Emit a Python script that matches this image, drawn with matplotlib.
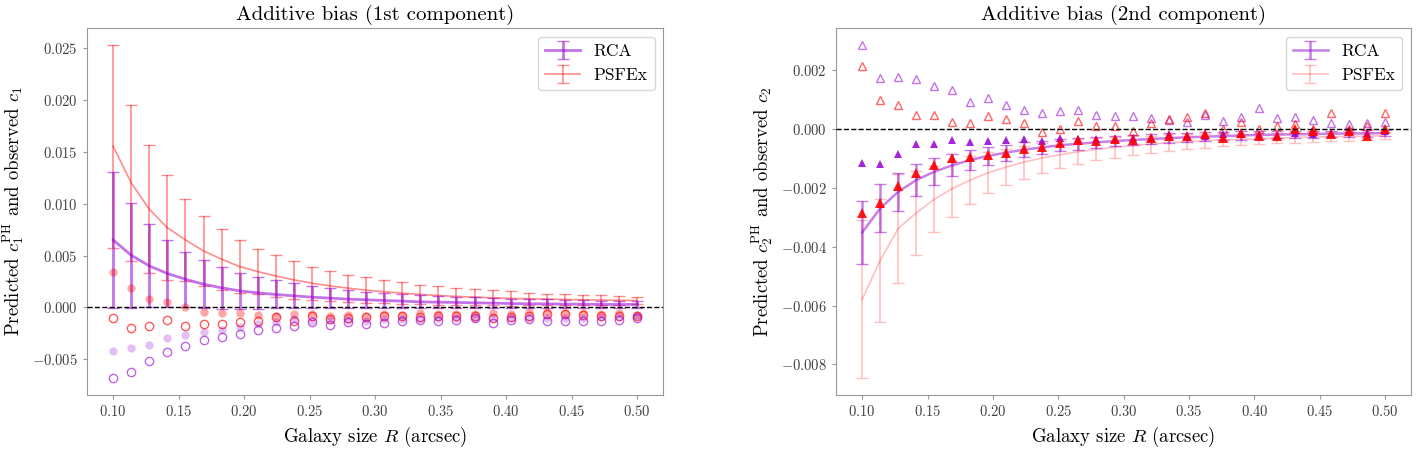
import numpy as np
import matplotlib
matplotlib.use('Agg')
import matplotlib.pyplot as plt

plt.rcParams['font.family'] = 'cmr10'
plt.rcParams['mathtext.fontset'] = 'cm'
plt.rcParams['axes.formatter.use_mathtext'] = True

# galaxy sizes (arcsec)
R = [0.1, 0.1138, 0.1276, 0.1414, 0.1552, 0.1690, 0.1828, 0.1966, 0.2103, 0.2241,
     0.2379, 0.2517, 0.2655, 0.2793, 0.2931, 0.3069, 0.3207, 0.3345, 0.3483, 0.3621,
     0.3759, 0.3897, 0.4034, 0.4172, 0.4310, 0.4448, 0.4586, 0.4724, 0.4862, 0.5]

# ---- 1st component ----
c1_rca_pred = [0.00651, 0.00503, 0.00401, 0.00327, 0.00272, 0.00224, 0.00189, 0.0016, 0.00141, 0.00125,
               0.00112, 0.00099, 0.0009, 0.0008, 0.00074, 0.00067, 0.00061, 0.00054, 0.00051, 0.00048,
               0.00045, 0.00042, 0.00038, 0.00035, 0.00035, 0.00032, 0.00032, 0.00029, 0.00029, 0.00029]
c1_rca_err = [0.00654, 0.00506, 0.00401, 0.00327, 0.00266, 0.00231, 0.00202, 0.00176, 0.00154, 0.00135,
              0.00119, 0.00106, 0.00096, 0.0009, 0.00077, 0.00071, 0.00067, 0.00064, 0.00058, 0.00054,
              0.00051, 0.00048, 0.00045, 0.00045, 0.00042, 0.00042, 0.00038, 0.00038, 0.00035, 0.00035]
c1_psf_pred = [0.01554, 0.01202, 0.00946, 0.00769, 0.00651, 0.00545, 0.00465, 0.00394, 0.00346, 0.00304,
               0.00266, 0.00234, 0.00208, 0.00186, 0.00167, 0.00151, 0.00138, 0.00125, 0.00115, 0.00106,
               0.00099, 0.00093, 0.00087, 0.00083, 0.0008, 0.00077, 0.00074, 0.00071, 0.00069, 0.00067]
c1_psf_err = [0.00978, 0.00753, 0.00615, 0.00503, 0.00397, 0.00337, 0.00295, 0.00256, 0.00221, 0.00199,
              0.00183, 0.0016, 0.00147, 0.00131, 0.00125, 0.00112, 0.00109, 0.00096, 0.00087, 0.00083,
              0.00077, 0.00071, 0.00071, 0.00061, 0.00054, 0.00051, 0.00048, 0.00045, 0.00042, 0.00038]
c1_psf_obs_f = [0.00337, 0.00186, 0.0008, 0.00054, 0.0, -0.00042, -0.00054, -0.00054, -0.00074, -0.0008,
                -0.00064, -0.00064, -0.0008, -0.00074, -0.0008, -0.00064, -0.00074, -0.00054, -0.00064, -0.00064,
                -0.00064, -0.00054, -0.00064, -0.00048, -0.00042, -0.00054, -0.00054, -0.00064, -0.00058, -0.00074]
c1_psf_obs_o = [-0.00103, -0.00196, -0.00176, -0.00122, -0.00183, -0.0016, -0.0016, -0.00144, -0.00128, -0.00096,
                -0.00128, -0.0008, -0.00112, -0.00106, -0.00096, -0.00087, -0.0008, -0.00096, -0.00087, -0.00087,
                -0.0008, -0.00106, -0.00096, -0.00087, -0.00064, -0.00064, -0.00074, -0.0008, -0.00087, -0.00087]
c1_rca_obs_f = [-0.00417, -0.00394, -0.0036, -0.00298, -0.00266, -0.0024, -0.00215, -0.00192, -0.0016, -0.00138,
                -0.00112, -0.00128, -0.00119, -0.00122, -0.00128, -0.00112, -0.00112, -0.00112, -0.00106, -0.00106,
                -0.00099, -0.00106, -0.00099, -0.00099, -0.00099, -0.00106, -0.00099, -0.00096, -0.00096, -0.00087]
c1_rca_obs_o = [-0.00683, -0.00625, -0.00513, -0.00426, -0.00369, -0.00314, -0.00288, -0.00256, -0.00215, -0.00199,
                -0.00183, -0.00144, -0.0017, -0.00144, -0.0016, -0.0015, -0.00128, -0.00122, -0.00128, -0.00122,
                -0.00106, -0.0015, -0.00119, -0.00112, -0.00135, -0.00135, -0.00128, -0.00128, -0.00119, -0.001]

# ---- 2nd component ----
c2_rca_pred = [-0.00352, -0.0027, -0.00214, -0.00174, -0.00146, -0.00124, -0.00106, -0.00092, -0.00081, -0.00071,
               -0.00063, -0.00056, -0.00051, -0.00046, -0.00042, -0.00038, -0.00035, -0.00032, -0.00029, -0.00027,
               -0.00025, -0.00023, -0.00021, -0.0002, -0.00019, -0.00018, -0.00017, -0.00016, -0.00016, -0.00015]
c2_rca_err = [0.00107, 0.00082, 0.00065, 0.00053, 0.00045, 0.00038, 0.00034, 0.0003, 0.00027, 0.00025,
              0.00023, 0.00021, 0.0002, 0.00019, 0.00018, 0.00017, 0.00016, 0.00016, 0.00015, 0.00015,
              0.00014, 0.00014, 0.00014, 0.00012, 0.00012, 0.00012, 0.00011, 0.00011, 0.00011, 0.00011]
c2_psf_pred = [-0.00579, -0.00447, -0.00338, -0.00286, -0.00239, -0.00203, -0.00174, -0.00149, -0.0013, -0.00113,
               -0.00099, -0.00088, -0.00078, -0.0007, -0.00063, -0.00057, -0.00052, -0.00047, -0.00044, -0.00041,
               -0.00038, -0.00036, -0.00034, -0.00032, -0.0003, -0.00028, -0.00027, -0.00026, -0.00025, -0.00024]
c2_psf_err = [0.00268, 0.00208, 0.00185, 0.00143, 0.00113, 0.00095, 0.0008, 0.0007, 0.0006, 0.00056,
              0.0005, 0.00046, 0.00043, 0.00037, 0.00035, 0.00033, 0.00029, 0.00028, 0.00026, 0.00024,
              0.0002, 0.00019, 0.00019, 0.00018, 0.00017, 0.00017, 0.00016, 0.00015, 0.00014, 0.00012]
c2_rca_obs_o = [0.00285, 0.00172, 0.00176, 0.0017, 0.00144, 0.00131, 0.00091, 0.00105, 0.00079, 0.00065,
                0.00054, 0.0006, 0.00065, 0.00048, 0.00043, 0.00043, 0.00037, 0.0003, 0.00023, 0.00045,
                0.00026, 0.00041, 0.00071, 0.00037, 0.00041, 0.00029, 0.00018, 0.00015, 0.00018, 0.00023]
c2_psf_obs_o = [0.00214, 0.00097, 0.00079, 0.00048, 0.00048, 0.00023, 0.00018, 0.00043, 0.00032, 0.0002,
                -0.00011, 0.0, 0.00026, 0.00009, 0.00009, -0.00008, 0.0002, 0.00034, 0.00041, 0.00054,
                -0.00002, 0.00023, -0.00002, 0.00009, 0.00015, -0.00002, 0.00054, -0.00002, 0.00009, 0.00054]
c2_rca_obs_f = [-0.00117, -0.00121, -0.00085, -0.00053, -0.00051, -0.00038, -0.00045, -0.00042, -0.00039, -0.00036,
                -0.00042, -0.0003, -0.00036, -0.00036, -0.00036, -0.0003, -0.0003, -0.00019, -0.00023, -0.00023,
                -0.00017, -0.00019, -0.00017, -0.00023, -0.00016, -0.00019, -0.00016, -0.00008, -0.00014, -0.00008]
c2_psf_obs_f = [-0.00287, -0.00252, -0.00194, -0.00151, -0.00123, -0.00098, -0.00095, -0.0009, -0.00081, -0.00068,
                -0.00061, -0.00047, -0.00038, -0.00042, -0.00034, -0.00038, -0.0003, -0.00023, -0.00023, -0.00019,
                -0.0003, -0.00014, -0.00023, -0.00023, 0.0, -0.00008, -0.00019, -0.00008, -0.00023, -0.00002]

purple = 'darkviolet'
red = 'red'


def style_axes(ax):
    for s in ax.spines.values():
        s.set_color('#999999')
    ax.tick_params(colors='#999999', labelcolor='#404040', labelsize=10.5, length=3)


fig = plt.figure(figsize=(14.25, 4.68), dpi=100)
ax1 = fig.add_axes([0.061, 0.156, 0.4045, 0.784])
ax2 = fig.add_axes([0.5867, 0.156, 0.4035, 0.784])

# left panel
ax1.errorbar(R, c1_rca_pred, yerr=c1_rca_err, color=purple, alpha=0.55, lw=2, capsize=4, label='RCA', zorder=3)
ax1.errorbar(R, c1_psf_pred, yerr=c1_psf_err, color=red, alpha=0.45, lw=1.2, capsize=4, label='PSFEx', zorder=2)
ax1.plot(R, c1_psf_obs_f, 'o', color=red, alpha=0.35, ms=6, mew=0, zorder=4)
ax1.plot(R, c1_psf_obs_o, 'o', mfc='none', mec=red, alpha=0.65, ms=6, mew=1.0, zorder=4)
ax1.plot(R, c1_rca_obs_f, 'o', color=purple, alpha=0.25, ms=6, mew=0, zorder=4)
ax1.plot(R, c1_rca_obs_o, 'o', mfc='none', mec=purple, alpha=0.6, ms=6, mew=1.0, zorder=4)
ax1.axhline(0, color='k', ls='--', lw=1, zorder=5)
ax1.set_title('Additive bias (1st component)', fontsize=15)
ax1.set_xlabel('Galaxy size $R$ (arcsec)', fontsize=13.5)
ax1.set_ylabel(r'Predicted $c_1^{\mathrm{PH}}$ and observed $c_1$', fontsize=13.5)
ax1.legend(loc='upper right', fontsize=12.5)
style_axes(ax1)

# right panel
ax2.errorbar(R, c2_rca_pred, yerr=c2_rca_err, color=purple, alpha=0.5, lw=1.8, capsize=4, label='RCA', zorder=3)
ax2.errorbar(R, c2_psf_pred, yerr=c2_psf_err, color=red, alpha=0.25, lw=1.2, capsize=4, label='PSFEx', zorder=2)
ax2.plot(R, c2_rca_obs_o, '^', mfc='none', mec=purple, alpha=0.55, ms=6, mew=1.0, zorder=4)
ax2.plot(R, c2_psf_obs_o, '^', mfc='none', mec=red, alpha=0.6, ms=6, mew=1.0, zorder=4)
ax2.plot(R, c2_rca_obs_f, '^', color=purple, alpha=0.85, ms=6, mew=0, zorder=4)
ax2.plot(R, c2_psf_obs_f, '^', color=red, alpha=0.9, ms=6.5, mew=0, zorder=4)
ax2.axhline(0, color='k', ls='--', lw=1, zorder=5)
ax2.set_title('Additive bias (2nd component)', fontsize=15)
ax2.set_xlabel('Galaxy size $R$ (arcsec)', fontsize=13.5)
ax2.set_ylabel(r'Predicted $c_2^{\mathrm{PH}}$ and observed $c_2$', fontsize=13.5)
ax2.legend(loc='upper right', fontsize=12.5)
style_axes(ax2)

fig.savefig('out.png', dpi=100)
